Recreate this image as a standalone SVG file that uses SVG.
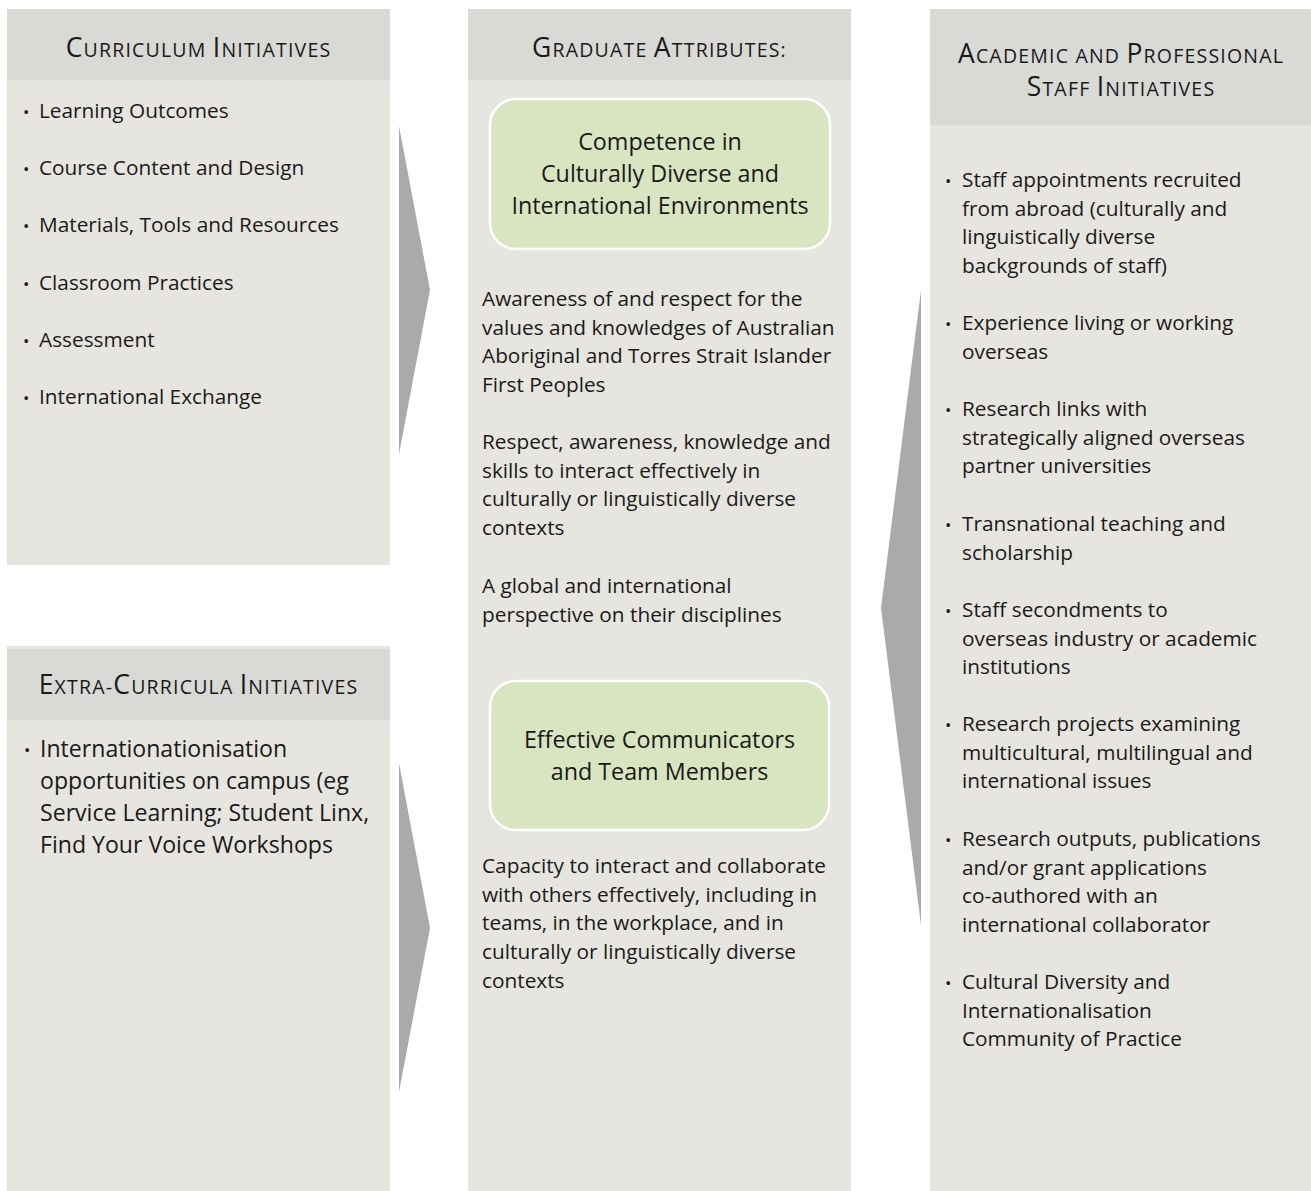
<svg xmlns="http://www.w3.org/2000/svg" width="1311" height="1191" viewBox="0 0 1311 1191">
<defs>
<style>
.body{fill:#e6e5df}
.head{fill:#d9d9d5}
.arrow{fill:#aaaaa9}
.green{fill:#d9e4c0;stroke:#ffffff;stroke-width:2.5}
text{font-family:"Open Sans","Noto Sans","Liberation Sans",sans-serif;fill:#1a1a1a}
.t{font-size:20.8px}
.tb{font-size:23.1px}
.g{font-size:23.3px;text-anchor:middle}
.h{text-anchor:middle;font-size:19.5px;letter-spacing:1.2px}
.hc{font-size:26.5px}
.bu{font-size:17px}
</style>
</defs>
<rect width="1311" height="1191" fill="#ffffff"/>

<g id="connectors">
<polygon class="arrow" points="399,126 430,290 399,454"/>
<polygon class="arrow" points="399,763 430,928 399,1092"/>
<polygon class="arrow" points="921,290 881,608 921,925"/>
</g>

<g id="curriculum">
<rect class="body" x="7" y="9" width="383" height="556"/>
<rect class="head" x="7" y="9" width="383" height="71"/>
<text class="h" x="198.5" y="57"><tspan class="hc">C</tspan>URRICULUM <tspan class="hc">I</tspan>NITIATIVES</text>
<text class="bu" x="23" y="118">•</text><text class="t" x="39" y="118">Learning Outcomes</text>
<text class="bu" x="23" y="175">•</text><text class="t" x="39" y="175">Course Content and Design</text>
<text class="bu" x="23" y="232">•</text><text class="t" x="39" y="232">Materials, Tools and Resources</text>
<text class="bu" x="23" y="290">•</text><text class="t" x="39" y="290">Classroom Practices</text>
<text class="bu" x="23" y="347">•</text><text class="t" x="39" y="347">Assessment</text>
<text class="bu" x="23" y="404">•</text><text class="t" x="39" y="404">International Exchange</text>
</g>

<g id="extra-curricula">
<rect class="body" x="7" y="646" width="383" height="545"/>
<rect class="head" x="7" y="649" width="383" height="71"/>
<text class="h" x="198.5" y="694"><tspan class="hc">E</tspan>XTRA-<tspan class="hc">C</tspan>URRICULA <tspan class="hc">I</tspan>NITIATIVES</text>
<text class="bu" x="24" y="756">•</text>
<text class="tb" x="40" y="757"><tspan x="40">Internationationisation</tspan><tspan x="40" dy="32">opportunities on campus (eg</tspan><tspan x="40" dy="32">Service Learning; Student Linx,</tspan><tspan x="40" dy="32">Find Your Voice Workshops</tspan></text>
</g>

<g id="graduate-attributes">
<rect class="body" x="468" y="9" width="383" height="1182"/>
<rect class="head" x="468" y="9" width="383" height="71"/>
<text class="h" x="659.5" y="57"><tspan class="hc">G</tspan>RADUATE <tspan class="hc">A</tspan>TTRIBUTES:</text>
<text class="t" x="482" y="306"><tspan x="482">Awareness of and respect for the</tspan><tspan x="482" dy="28.7">values and knowledges of Australian</tspan><tspan x="482" dy="28.7">Aboriginal and Torres Strait Islander</tspan><tspan x="482" dy="28.7">First Peoples</tspan></text>
<text class="t" x="482" y="449"><tspan x="482">Respect, awareness, knowledge and</tspan><tspan x="482" dy="28.7">skills to interact effectively in</tspan><tspan x="482" dy="28.7">culturally or linguistically diverse</tspan><tspan x="482" dy="28.7">contexts</tspan></text>
<text class="t" x="482" y="593"><tspan x="482">A global and international</tspan><tspan x="482" dy="28.7">perspective on their disciplines</tspan></text>
<text class="t" x="482" y="873"><tspan x="482">Capacity to interact and collaborate</tspan><tspan x="482" dy="28.7">with others effectively, including in</tspan><tspan x="482" dy="28.7">teams, in the workplace, and in</tspan><tspan x="482" dy="28.7">culturally or linguistically diverse</tspan><tspan x="482" dy="28.7">contexts</tspan></text>
</g>

<g id="competence">
<rect class="green" x="490" y="99" width="340" height="150" rx="26"/>
<text class="g" x="660" y="150"><tspan x="660">Competence in</tspan><tspan x="660" dy="32">Culturally Diverse and</tspan><tspan x="660" dy="32">International Environments</tspan></text>
</g>

<g id="communicators">
<rect class="green" x="490" y="681" width="339" height="149" rx="26"/>
<text class="g" x="659.5" y="748"><tspan x="659.5">Effective Communicators</tspan><tspan x="659.5" dy="32">and Team Members</tspan></text>
</g>

<g id="staff-initiatives">
<rect class="body" x="930" y="9" width="381" height="1182"/>
<rect class="head" x="930" y="9" width="381" height="116"/>
<text class="h" x="1121" y="63"><tspan class="hc">A</tspan>CADEMIC AND <tspan class="hc">P</tspan>ROFESSIONAL</text>
<text class="h" x="1121" y="96"><tspan class="hc">S</tspan>TAFF <tspan class="hc">I</tspan>NITIATIVES</text>
<text class="bu" x="945" y="187">•</text>
<text class="t" x="962" y="187"><tspan x="962">Staff appointments recruited</tspan><tspan x="962" dy="28.7">from abroad (culturally and</tspan><tspan x="962" dy="28.7">linguistically diverse</tspan><tspan x="962" dy="28.7">backgrounds of staff)</tspan></text>
<text class="bu" x="945" y="330">•</text>
<text class="t" x="962" y="330"><tspan x="962">Experience living or working</tspan><tspan x="962" dy="28.7">overseas</tspan></text>
<text class="bu" x="945" y="416">•</text>
<text class="t" x="962" y="416"><tspan x="962">Research links with</tspan><tspan x="962" dy="28.7">strategically aligned overseas</tspan><tspan x="962" dy="28.7">partner universities</tspan></text>
<text class="bu" x="945" y="531">•</text>
<text class="t" x="962" y="531"><tspan x="962">Transnational teaching and</tspan><tspan x="962" dy="28.7">scholarship</tspan></text>
<text class="bu" x="945" y="617">•</text>
<text class="t" x="962" y="617"><tspan x="962">Staff secondments to</tspan><tspan x="962" dy="28.7">overseas industry or academic</tspan><tspan x="962" dy="28.7">institutions</tspan></text>
<text class="bu" x="945" y="731">•</text>
<text class="t" x="962" y="731"><tspan x="962">Research projects examining</tspan><tspan x="962" dy="28.7">multicultural, multilingual and</tspan><tspan x="962" dy="28.7">international issues</tspan></text>
<text class="bu" x="945" y="846">•</text>
<text class="t" x="962" y="846"><tspan x="962">Research outputs, publications</tspan><tspan x="962" dy="28.7">and/or grant applications</tspan><tspan x="962" dy="28.7">co-authored with an</tspan><tspan x="962" dy="28.7">international collaborator</tspan></text>
<text class="bu" x="945" y="989">•</text>
<text class="t" x="962" y="989"><tspan x="962">Cultural Diversity and</tspan><tspan x="962" dy="28.7">Internationalisation</tspan><tspan x="962" dy="28.7">Community of Practice</tspan></text>
</g>
</svg>
